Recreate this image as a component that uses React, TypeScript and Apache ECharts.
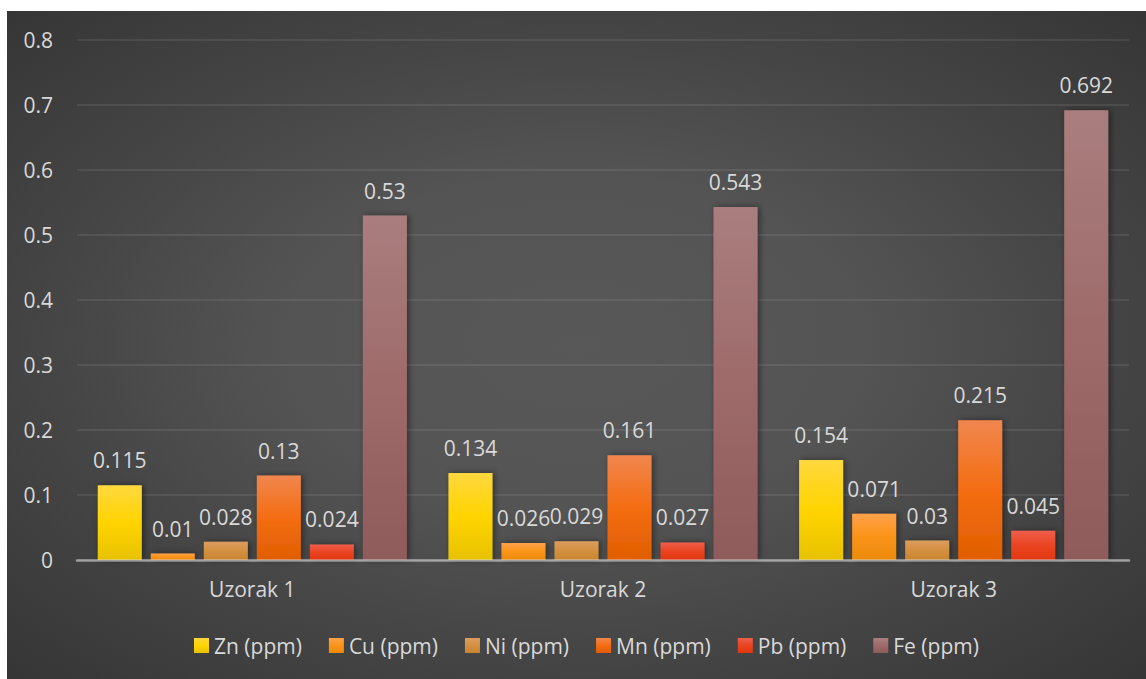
import React, { useEffect, useRef } from "react";
import * as echarts from "echarts";

// Samples and measured concentrations (ppm)
const categories = ["Uzorak 1", "Uzorak 2", "Uzorak 3"];
const seriesNames = ["Zn (ppm)", "Cu (ppm)", "Ni (ppm)", "Mn (ppm)", "Pb (ppm)", "Fe (ppm)"];
const znValues = [0.115, 0.134, 0.154];
const cuValues = [0.01, 0.026, 0.071];
const niValues = [0.028, 0.029, 0.03];
const mnValues = [0.13, 0.161, 0.215];
const pbValues = [0.024, 0.027, 0.045];
const feValues = [0.53, 0.543, 0.692];
const yMin = 0;
const yMax = 0.8;
const yStep = 0.1;

// top / middle / bottom shades for each bar's vertical gradient
const shades: string[][] = [
  ["#FFD83F", "#FFD400", "#E8C200"],
  ["#FFA14A", "#FA9418", "#EC8A0C"],
  ["#DB9D5E", "#D39040", "#C98530"],
  ["#F0864E", "#F46D12", "#E05E00"],
  ["#EF5E4A", "#EA4422", "#E1370F"],
  ["#AA7E7E", "#9E6A6A", "#8F5A5A"],
];

const FONT = "'Open Sans', 'Liberation Sans', sans-serif";
const TEXT = "#D9D9D9";
const FS = 21;

function barGradient(c: string[]) {
  return new echarts.graphic.LinearGradient(0, 0, 0, 1, [
    { offset: 0, color: c[0] },
    { offset: 0.5, color: c[1] },
    { offset: 1, color: c[2] },
  ]);
}

export default function App() {
  const ref = useRef<HTMLDivElement>(null);

  useEffect(() => {
    if (!ref.current) return;
    const chart = echarts.init(ref.current, undefined, { renderer: "svg" });
    const values = [znValues, cuValues, niValues, mnValues, pbValues, feValues];

    chart.setOption({
      animation: false,
      backgroundColor: {
        type: "radial",
        x: 0.5,
        y: 0.5,
        r: 1,
        colorStops: [
          { offset: 0, color: "#585858" },
          { offset: 0.25, color: "#545454" },
          { offset: 0.45, color: "#464646" },
          { offset: 0.7, color: "#363636" },
          { offset: 0.9, color: "#2B2B2B" },
          { offset: 1, color: "#272727" },
        ],
      },
      textStyle: { fontFamily: FONT },
      grid: { left: 70, right: 17, top: 29, bottom: 119 },
      legend: {
        left: 182,
        top: 619,
        itemWidth: 15,
        itemHeight: 15,
        itemGap: 27,
        icon: "rect",
        textStyle: { color: TEXT, fontSize: FS, fontFamily: FONT },
        data: seriesNames,
      },
      xAxis: {
        type: "category",
        data: categories,
        z: 3,
        axisLine: { show: true, lineStyle: { color: "rgba(217,217,217,0.6)", width: 2.5 } },
        axisTick: { show: false },
        axisLabel: { color: TEXT, fontSize: FS, fontFamily: FONT, margin: 18 },
      },
      yAxis: {
        type: "value",
        min: yMin,
        max: yMax,
        interval: yStep,
        axisLine: { show: false },
        axisTick: { show: false },
        axisLabel: { color: TEXT, fontSize: FS, fontFamily: FONT, margin: 24 },
        splitLine: { lineStyle: { color: "rgba(255,255,255,0.08)", width: 2 } },
      },
      series: seriesNames.map((name, i) => ({
        name,
        type: "bar",
        data: values[i],
        barWidth: 44,
        barGap: "20.5%",
        itemStyle: {
          color: barGradient(shades[i]),
          shadowColor: "rgba(0,0,0,0.45)",
          shadowBlur: 6,
          shadowOffsetX: 2,
          shadowOffsetY: 0,
        },
        label: {
          show: true,
          position: "top",
          distance: 13,
          color: TEXT,
          fontSize: FS,
          fontFamily: FONT,
          lineHeight: 24,
        },
      })),
    });

    return () => chart.dispose();
  }, []);

  return (
    <div style={{ position: "fixed", left: 0, top: 0, width: 1146, height: 679, background: "#ffffff" }}>
      <div ref={ref} style={{ position: "absolute", left: 7, top: 11, width: 1139, height: 668 }} />
    </div>
  );
}
